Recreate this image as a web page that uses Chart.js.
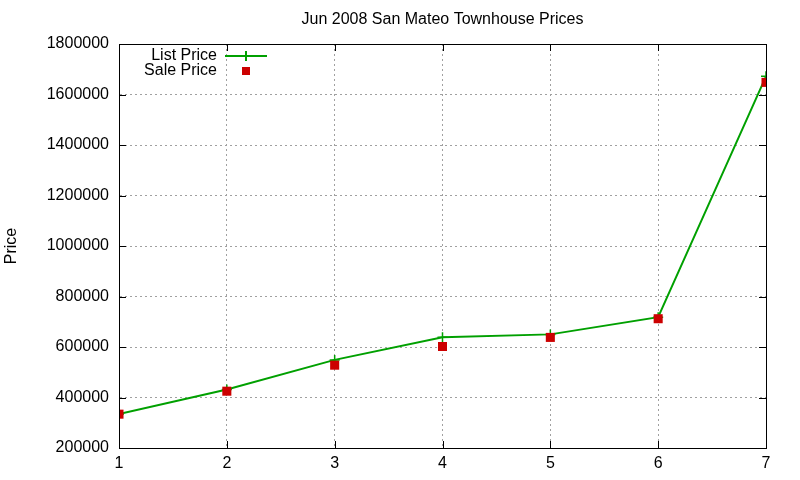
<!DOCTYPE html>
<html>
<head>
<meta charset="utf-8">
<script src="https://cdn.jsdelivr.net/npm/chart.js@4"></script>
<style>
  html, body { margin: 0; padding: 0; background: #fff; }
  #wrap { width: 800px; height: 480px; }
</style>
</head>
<body>
<div id="wrap"><canvas id="c" width="800" height="480"></canvas></div>
<script>
const chartTitle = 'Jun 2008 San Mateo Townhouse Prices';
const yAxisTitle = 'Price';
const xValues = [1, 2, 3, 4, 5, 6, 7];
const listPrice = [335000, 432000, 549000, 639000, 650000, 718000, 1672000];
const salePrice = [334000, 425000, 528000, 602000, 638000, 712000, 1648000];
const seriesNames = ['List Price', 'Sale Price'];

const FONT = '"Liberation Sans", Arial, sans-serif';
const GREEN = '#00a000';
const RED = '#cc0000';

const frame = {
  id: 'frame',
  afterDraw(chart) {
    const {ctx, chartArea: a, scales} = chart;
    ctx.save();
    // title centred over the plot area
    ctx.font = '16px ' + FONT;
    ctx.fillStyle = '#000';
    ctx.textAlign = 'center';
    ctx.textBaseline = 'middle';
    ctx.fillText(chartTitle, (a.left + a.right) / 2, 20);

    ctx.strokeStyle = '#000';
    ctx.lineWidth = 1;
    ctx.strokeRect(a.left + 0.5, a.top + 0.5, a.right - a.left, a.bottom - a.top);
    const L = 7;
    ctx.beginPath();
    scales.x.ticks.forEach(t => {
      const x = Math.round(scales.x.getPixelForValue(t.value)) + 0.5;
      ctx.moveTo(x, a.bottom); ctx.lineTo(x, a.bottom - L);
      ctx.moveTo(x, a.top); ctx.lineTo(x, a.top + L);
    });
    scales.y.ticks.forEach(t => {
      const y = Math.round(scales.y.getPixelForValue(t.value)) + 0.5;
      ctx.moveTo(a.left, y); ctx.lineTo(a.left + L, y);
      ctx.moveTo(a.right, y); ctx.lineTo(a.right - L, y);
    });
    ctx.stroke();

    // legend
    ctx.fillStyle = '#000';
    ctx.textAlign = 'right';
    ctx.textBaseline = 'middle';
    const tx = 217, sx = 246;
    const y1 = 56, y2 = 71;
    ctx.fillText(seriesNames[0], tx, y1);
    ctx.fillText(seriesNames[1], tx, y2);
    ctx.strokeStyle = GREEN;
    ctx.lineWidth = 2;
    ctx.beginPath();
    ctx.moveTo(225, y1); ctx.lineTo(267, y1);
    ctx.moveTo(sx, y1 - 5); ctx.lineTo(sx, y1 + 5);
    ctx.stroke();
    ctx.fillStyle = RED;
    ctx.fillRect(sx - 4, y2 - 4, 8, 8);
    ctx.restore();
  }
};

new Chart(document.getElementById('c'), {
  type: 'line',
  data: {
    datasets: [
      {
        label: seriesNames[1],
        data: xValues.map((x, i) => ({x, y: salePrice[i]})),
        showLine: false,
        pointStyle: 'rect',
        pointRadius: 6.4,
        backgroundColor: RED,
        borderColor: RED,
        borderWidth: 0,
        order: 0
      },
      {
        label: seriesNames[0],
        data: xValues.map((x, i) => ({x, y: listPrice[i]})),
        borderColor: GREEN,
        backgroundColor: GREEN,
        borderWidth: 2,
        pointStyle: 'cross',
        pointRadius: 5,
        pointBorderWidth: 1.5,
        tension: 0,
        order: 1
      }
    ]
  },
  plugins: [frame],
  options: {
    responsive: false,
    animation: false,
    devicePixelRatio: 1,
    layout: { padding: { top: 44, right: 34, bottom: 0, left: 0 } },
    plugins: {
      legend: { display: false },
      tooltip: { enabled: false },
      title: { display: false }
    },
    scales: {
      x: {
        type: 'linear',
        min: 1, max: 7,
        afterFit(s) { s.height = 32; },
        ticks: {
          stepSize: 1,
          color: '#000',
          padding: 6,
          font: { family: FONT, size: 16 }
        },
        grid: { color: '#a0a0a0', lineWidth: 1, drawTicks: false },
        border: { display: true, color: '#000', dash: [2, 3] }
      },
      y: {
        type: 'linear',
        min: 200000, max: 1800000,
        afterFit(s) { s.width = 119; },
        ticks: {
          stepSize: 200000,
          color: '#000',
          padding: 10,
          font: { family: FONT, size: 16 },
          callback: v => String(v)
        },
        grid: { color: '#a0a0a0', lineWidth: 1, drawTicks: false },
        border: { display: true, color: '#000', dash: [2, 3] },
        title: {
          display: true,
          text: yAxisTitle,
          color: '#000',
          font: { family: FONT, size: 16 },
          padding: { top: 2, bottom: 0 }
        }
      }
    }
  }
});
</script>
</body>
</html>
